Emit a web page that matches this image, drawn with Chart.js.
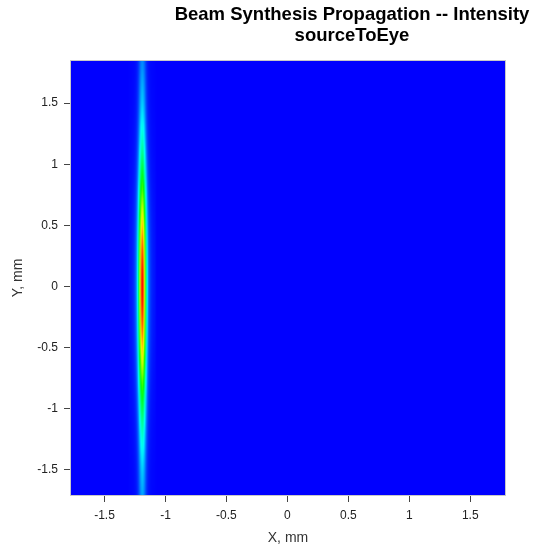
<!DOCTYPE html>
<html><head><meta charset="utf-8">
<script src="https://cdn.jsdelivr.net/npm/chart.js@4.4.1/dist/chart.umd.min.js"></script>
<style>
html,body{margin:0;padding:0;background:#fff;}
#wrap{position:relative;width:540px;height:547px;}
#title{position:absolute;left:152px;top:3px;width:400px;text-align:center;font:bold 18.5px/21px "Liberation Sans",Arial,sans-serif;color:#000;}
canvas{position:absolute;left:0;top:0;}
</style></head><body>
<div id="wrap"><canvas id="c" width="540" height="547"></canvas><div id="title">Beam Synthesis Propagation -- Intensity<br>sourceToEye</div></div>
<script>
// ---- data ----
const xTicks = [-1.5, -1, -0.5, 0, 0.5, 1, 1.5];
const yTicks = [-1.5, -1, -0.5, 0, 0.5, 1, 1.5];
const xRange = [-1.775, 1.785];
const yRange = [-1.705, 1.844];
const beamCenterX = -1.19;
// horizontal offsets (mm) across the beam and relative intensity
const beamOffsets = [-0.12,-0.11,-0.10,-0.09,-0.08,-0.07,-0.06,-0.05,-0.04,-0.03,-0.02,-0.01,0,
                      0.01,0.02,0.03,0.04,0.05,0.06,0.07,0.08,0.09,0.10,0.11,0.12];
const beamXProfile = [0,0.01,0.02,0.025,0.035,0.05,0.08,0.13,0.24,0.42,0.68,0.90,1.0,
                      0.90,0.68,0.42,0.24,0.13,0.08,0.05,0.035,0.025,0.02,0.01,0];
// rows along Y (mm) and the peak intensity of the beam at that row
const rowY = [1.9,1.8,1.7,1.6,1.5,1.4,1.3,1.2,1.1,1.0,0.9,0.8,0.7,0.6,0.5,0.4,0.3,0.2,0.1,0,
              -0.1,-0.2,-0.3,-0.4,-0.5,-0.6,-0.7,-0.8,-0.9,-1.0,-1.1,-1.2,-1.3,-1.4,-1.5,-1.6,-1.7,-1.8,-1.9];
const rowIntensity = [0.13,0.14,0.16,0.18,0.20,0.23,0.27,0.31,0.36,0.42,0.48,0.56,0.64,0.72,0.80,0.87,0.92,0.96,0.99,1.0,
                      0.99,0.96,0.92,0.87,0.80,0.72,0.64,0.56,0.48,0.42,0.36,0.31,0.27,0.23,0.20,0.18,0.16,0.14,0.13];
// colour map
const colorStops = [0, 0.25, 0.5, 0.75, 1];
const colorValues = [[0,0,255],[0,255,255],[0,255,0],[255,255,0],[255,0,0]];

function cmap(v){
  v = Math.max(0, Math.min(1, v));
  for (let i = 1; i < colorStops.length; i++){
    if (v <= colorStops[i]){
      const t = (v - colorStops[i-1]) / (colorStops[i] - colorStops[i-1]);
      const a = colorValues[i-1], b = colorValues[i];
      return [0,1,2].map(k => Math.round(a[k] + (b[k]-a[k]) * t));
    }
  }
  return colorValues[colorValues.length-1];
}

const heatmap = {
  id: 'heatmap',
  beforeDatasetsDraw(chart){
    const {ctx, chartArea: a, scales: {x, y}} = chart;
    ctx.save();
    ctx.beginPath(); ctx.rect(a.left, a.top, a.width, a.height); ctx.clip();
    const bg = cmap(0);
    ctx.fillStyle = `rgb(${bg[0]},${bg[1]},${bg[2]})`;
    ctx.fillRect(x.getPixelForValue(xRange[0]), y.getPixelForValue(yRange[1]),
                 x.getPixelForValue(xRange[1]) - x.getPixelForValue(xRange[0]),
                 y.getPixelForValue(yRange[0]) - y.getPixelForValue(yRange[1]));
    const nc = beamOffsets.length, nr = rowY.length;
    const off = document.createElement('canvas');
    off.width = nc; off.height = nr;
    const octx = off.getContext('2d');
    const img = octx.createImageData(nc, nr);
    for (let r = 0; r < nr; r++){
      for (let c = 0; c < nc; c++){
        const col = cmap(rowIntensity[r] * beamXProfile[c]);
        const p = (r * nc + c) * 4;
        img.data[p] = col[0]; img.data[p+1] = col[1]; img.data[p+2] = col[2]; img.data[p+3] = 255;
      }
    }
    octx.putImageData(img, 0, 0);
    const dx = beamOffsets[1] - beamOffsets[0];
    const dy = rowY[0] - rowY[1];
    const x0 = x.getPixelForValue(beamCenterX + beamOffsets[0] - dx/2);
    const x1 = x.getPixelForValue(beamCenterX + beamOffsets[nc-1] + dx/2);
    const y0 = y.getPixelForValue(rowY[0] + dy/2);
    const y1 = y.getPixelForValue(rowY[nr-1] - dy/2);
    ctx.imageSmoothingEnabled = true;
    ctx.imageSmoothingQuality = 'high';
    ctx.drawImage(off, x0, y0, x1 - x0, y1 - y0);
    ctx.restore();
    ctx.save();
    ctx.strokeStyle = '#c8c8c8'; ctx.lineWidth = 1;
    ctx.strokeRect(a.left - 0.5, a.top - 0.5, a.width + 1, a.height + 1);
    ctx.restore();
  }
};

Chart.defaults.font.family = '"Liberation Sans", Arial, sans-serif';

new Chart(document.getElementById('c'), {
  type: 'scatter',
  data: { datasets: [{ data: [], showLine: false }] },
  options: {
    responsive: false, animation: false,
    layout: { padding: { left: 0, right: 35, top: 61, bottom: 0 } },
    plugins: { legend: { display: false }, tooltip: { enabled: false } },
    scales: {
      x: {
        type: 'linear', min: xRange[0], max: xRange[1],
        afterBuildTicks: s => { s.ticks = xTicks.map(v => ({ value: v })); },
        afterFit: s => { s.height = 52; },
        ticks: { font: { size: 12 }, color: '#222', padding: 6, maxRotation: 0, callback: v => String(v) },
        grid: { display: true, drawOnChartArea: false, drawTicks: true, tickLength: 7, color: '#444' },
        border: { display: false },
        title: { display: true, text: 'X, mm', font: { size: 14 }, color: '#333', padding: { top: 0, bottom: 0 } }
      },
      y: {
        type: 'linear', min: yRange[0], max: yRange[1],
        afterBuildTicks: s => { s.ticks = yTicks.map(v => ({ value: v })); },
        afterFit: s => { s.width = 71; },
        ticks: { font: { size: 12 }, color: '#222', padding: 6, callback: v => String(v) },
        grid: { display: true, drawOnChartArea: false, drawTicks: true, tickLength: 7, color: '#444' },
        border: { display: false },
        title: { display: true, text: 'Y, mm', font: { size: 14 }, color: '#333', padding: { top: 10, bottom: 0 } }
      }
    }
  },
  plugins: [heatmap]
});
</script>
</body></html>
